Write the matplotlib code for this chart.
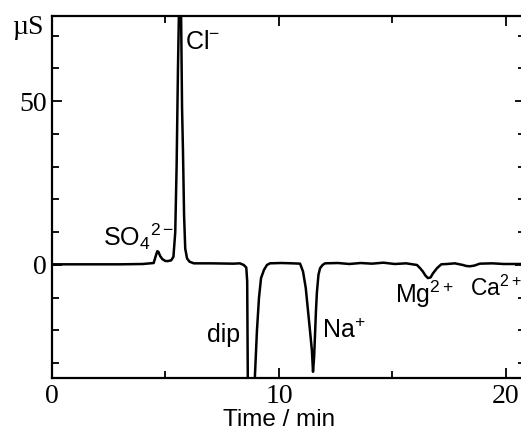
import matplotlib
matplotlib.use("Agg")
import matplotlib.pyplot as plt
from matplotlib.ticker import MultipleLocator

# chromatogram trace: time (min) and conductivity (uS)
time_min = [0.0, 1.5, 3.0, 4.0, 4.48, 4.56, 4.64, 4.69, 4.76, 4.86, 5.0, 5.1, 5.25, 5.35,
            5.43, 5.49, 5.55, 5.6, 5.65, 5.69, 5.73, 5.77, 5.82, 5.87, 5.95, 6.06, 6.25,
            7.0, 8.0, 8.28, 8.45, 8.56, 8.6, 8.65, 8.85, 8.94, 9.03, 9.12, 9.21, 9.34,
            9.47, 9.6, 10.1, 10.6, 10.93, 11.06, 11.18, 11.28, 11.38, 11.45, 11.5,
            11.55, 11.59, 11.63, 11.67, 11.74, 11.81, 11.92, 12.03, 12.6, 13.1, 13.6,
            14.1, 14.6, 15.1, 15.6, 16.08, 16.22, 16.34, 16.45, 16.56, 16.68, 16.78,
            16.96, 17.15, 17.4, 17.75, 18.1, 18.25, 18.41, 18.6, 18.85, 19.4, 19.9,
            20.9]
signal_us = [0.2, 0.2, 0.2, 0.3, 0.6, 2.5, 4.2, 4.0, 2.8, 1.8, 1.2, 1.2, 1.4, 2.5,
             10.0, 30.0, 60.0, 80.0, 95.0, 75.0, 48.0, 35.0, 15.0, 5.0, 2.0, 1.0, 0.5,
             0.5, 0.4, 0.5, 0.0, -0.8, -5.0, -60.0, -60.0, -34.0, -20.0, -10.0, -4.0,
             -1.5, 0.0, 0.5, 0.6, 0.5, 0.4, -2.0, -7.0, -14.0, -21.0, -26.0, -32.6,
             -28.0, -21.0, -14.0, -8.5, -3.0, -1.0, 0.0, 0.5, 0.6, 0.3, 0.6, 0.4,
             0.7, 0.3, 0.5, 0.0, -1.0, -2.0, -3.2, -4.0, -3.8, -2.6, -1.0, 0.2, 0.3,
             0.5, 0.0, -0.3, -0.4, -0.2, 0.4, 0.5, 0.3, 0.3]

# peak labels: (text, time, signal, horizontal alignment, font size)
peak_labels = [
    (r"Cl$^{-}$", 5.86, 68.0, "left", 18),
    (r"SO$_4{}^{2-}$", 2.25, 8.5, "left", 18),
    ("dip", 7.56, -21.5, "center", 18),
    (r"Na$^{+}$", 11.89, -20.0, "left", 18),
    (r"Mg$^{2+}$", 15.1, -9.0, "left", 18),
    (r"Ca$^{2+}$", 18.42, -7.0, "left", 16.5),
]

plt.rcParams["mathtext.fontset"] = "custom"
plt.rcParams["mathtext.rm"] = "Liberation Sans"
plt.rcParams["mathtext.it"] = "Liberation Sans:italic"
plt.rcParams["mathtext.bf"] = "Liberation Sans:bold"

fig = plt.figure(figsize=(5.21, 4.34), dpi=100)
# right spine sits just past the picture's edge, as in the scan
ax = fig.add_axes([52 / 521, 56 / 434, 473 / 521, 362 / 434])

ax.plot(time_min, signal_us, color="black", lw=1.8)
ax.set_xlim(0, 20.84)
ax.set_ylim(-34.5, 76)

for s in ax.spines.values():
    s.set_linewidth(1.6)

ax.xaxis.set_major_locator(MultipleLocator(10))
ax.xaxis.set_minor_locator(MultipleLocator(5))
ax.yaxis.set_major_locator(MultipleLocator(50))
ax.yaxis.set_minor_locator(MultipleLocator(10))
ax.tick_params(which="both", direction="in", top=True, right=True, width=1.3)
ax.tick_params(which="major", length=7, pad=4)
ax.tick_params(which="minor", length=5)
for lab in ax.get_xticklabels() + ax.get_yticklabels():
    lab.set_family("Liberation Serif")
    lab.set_fontsize(20)

ax.set_xlabel("Time / min", family="Liberation Sans", fontsize=17.5)
ax.xaxis.set_label_coords(0.481, -0.085)

fig.text(28 / 521, 1 - 28 / 434, "\u00b5S", family="Liberation Serif", fontsize=20,
         ha="center", va="center")

for txt, t, v, ha, fs in peak_labels:
    ax.text(t, v, txt, family="Liberation Sans", fontsize=fs, ha=ha, va="center")

fig.savefig("out.png", dpi=100)
